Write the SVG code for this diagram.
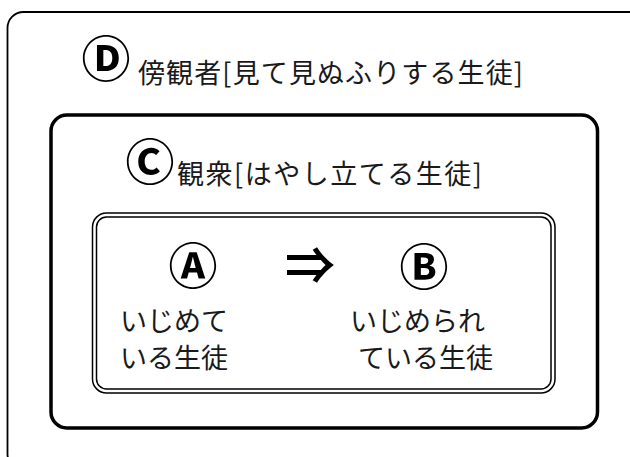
<svg xmlns="http://www.w3.org/2000/svg" width="630" height="457" viewBox="0 0 630 457">
<style>
.box{fill:none;stroke:#000}
.t{font-family:"Noto Sans CJK JP","Noto Sans",sans-serif;font-size:27px;fill:#1a1a1a}
.c{font-family:"Noto Sans CJK JP","DejaVu Sans",sans-serif;font-weight:bold;fill:#000;text-anchor:middle;font-size:49px}
.ar{font-family:"Noto Sans CJK JP","DejaVu Sans",sans-serif;font-weight:bold;fill:#000;text-anchor:middle;font-size:50px}
</style>
<rect width="630" height="457" fill="#fff"/>
<g id="node-D">
<rect class="box" x="7.5" y="12" width="700" height="458" rx="16" stroke-width="1.8"/>
<text class="c" x="106" y="77">Ⓓ</text>
<text class="t" x="138" y="83" textLength="385" lengthAdjust="spacing">傍観者[見て見ぬふりする生徒]</text>
</g>
<g id="node-C">
<rect class="box" x="51" y="115" width="546.5" height="313" rx="16" stroke-width="3.5"/>
<text class="c" x="150" y="180">Ⓒ</text>
<text class="t" x="177" y="184" textLength="305" lengthAdjust="spacing">観衆[はやし立てる生徒]</text>
</g>
<g id="node-AB">
<rect class="box" x="92.5" y="213" width="462.5" height="180" rx="14" stroke-width="1.5"/>
<rect class="box" x="96.5" y="217" width="454.5" height="172" rx="10" stroke-width="1.5"/>
<g id="node-A">
<text class="c" x="193" y="284">Ⓐ</text>
<text class="t" x="120" y="331">いじめて</text>
<text class="t" x="120" y="368">いる生徒</text>
</g>
<g id="node-B">
<text class="c" x="424" y="285">Ⓑ</text>
<text class="t" x="350" y="331">いじめられ</text>
<text class="t" x="358" y="368">ている生徒</text>
</g>
</g>
<g id="connectors">
<text class="ar" x="310" y="284">⇒</text>
</g>
</svg>
